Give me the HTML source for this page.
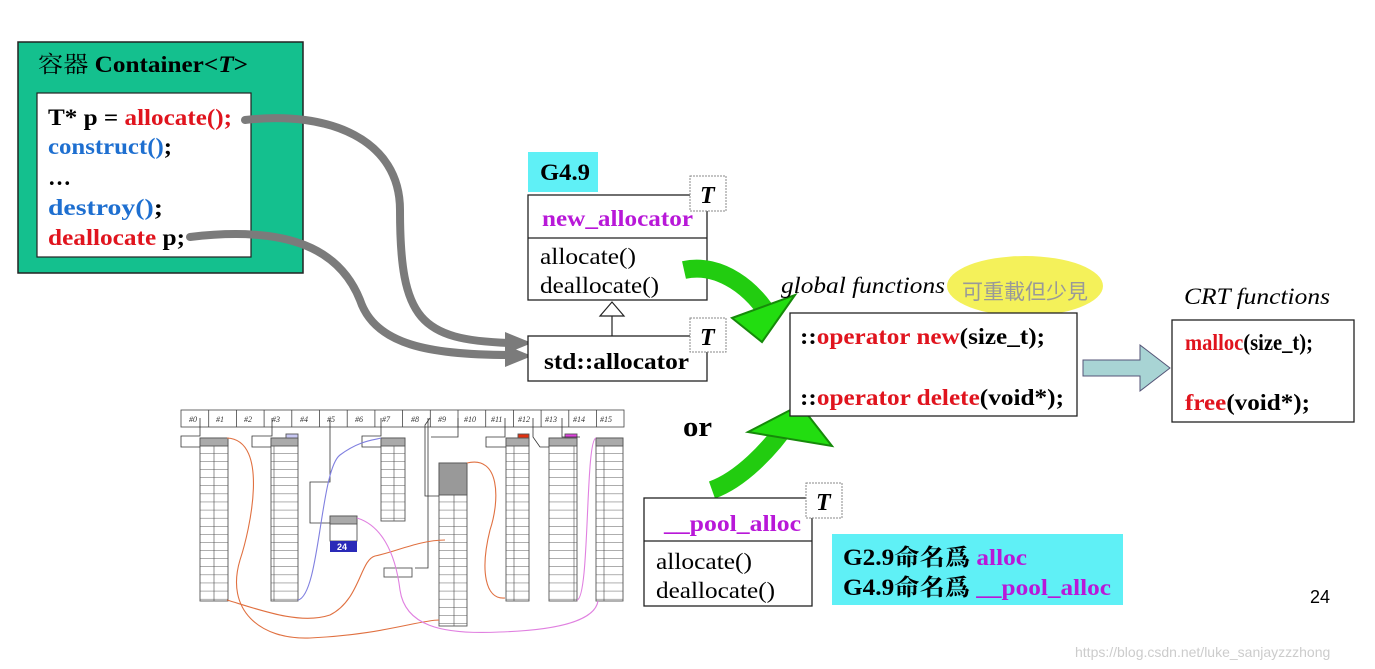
<!DOCTYPE html>
<html><head><meta charset="utf-8"><style>
html,body{margin:0;padding:0;background:#fff;}
svg{display:block;}
.s{font-family:"Liberation Serif","Noto Serif CJK SC",serif;}
.b{font-weight:bold;}
</style></head><body>
<svg width="1375" height="669" viewBox="0 0 1375 669" xmlns="http://www.w3.org/2000/svg">
<defs>
<pattern id="rows" x="0" y="0" width="30" height="8.1" patternUnits="userSpaceOnUse">
<line x1="0" y1="8" x2="30" y2="8" stroke="#555" stroke-width="0.8"/>
<line x1="4" y1="0" x2="4" y2="8" stroke="#444" stroke-width="0.6"/>
</pattern>
</defs>

<!-- Container -->
<rect x="18" y="42" width="285" height="231" fill="#14c08e" stroke="#222" stroke-width="1.5"/>
<text x="38" y="72" class="s" font-size="23" textLength="210" lengthAdjust="spacingAndGlyphs"><tspan>容器 </tspan><tspan class="b">Container&lt;</tspan><tspan class="b" font-style="italic">T</tspan><tspan class="b">&gt;</tspan></text>
<rect x="37" y="93" width="214" height="164" fill="#fff" stroke="#222" stroke-width="1.2"/>
<g class="s b" font-size="23">
<text x="48" y="125" textLength="184" lengthAdjust="spacingAndGlyphs">T* p = <tspan fill="#e0141e">allocate();</tspan></text>
<text x="48" y="154" fill="#1e6fd0" textLength="124" lengthAdjust="spacingAndGlyphs">construct()<tspan fill="#000">;</tspan></text>
<text x="48" y="185">…</text>
<text x="48" y="215" fill="#1e6fd0" textLength="115" lengthAdjust="spacingAndGlyphs">destroy()<tspan fill="#000">;</tspan></text>
<text x="48" y="245" fill="#e0141e" textLength="137" lengthAdjust="spacingAndGlyphs">deallocate <tspan fill="#000">p;</tspan></text>
</g>

<!-- gray arrows -->
<g fill="none" stroke="#7b7b7b" stroke-width="8" stroke-linecap="round">
<path d="M245 120 C330 110 400 140 400 210 C400 320 420 340 510 343"/>
<path d="M190 237 C290 225 340 250 360 300 C375 345 430 355 510 355"/>
</g>
<polygon points="505,332 532,343 505,354" fill="#7b7b7b"/>
<polygon points="505,345 532,356 505,367" fill="#7b7b7b"/>

<!-- G4.9 -->
<rect x="528" y="152" width="70" height="40" fill="#5ff0f6"/>
<text x="540" y="180" class="s b" font-size="23" textLength="50" lengthAdjust="spacingAndGlyphs">G4.9</text>
<rect x="528" y="195" width="179" height="105" fill="#fff" stroke="#222" stroke-width="1.3"/>
<line x1="528" y1="238" x2="707" y2="238" stroke="#222" stroke-width="1.3"/>
<text x="542" y="226" class="s b" font-size="23" fill="#b818d8" textLength="151" lengthAdjust="spacingAndGlyphs">new_allocator</text>
<text x="540" y="264" class="s" font-size="23" textLength="96" lengthAdjust="spacingAndGlyphs">allocate()</text>
<text x="540" y="293" class="s" font-size="23" textLength="119" lengthAdjust="spacingAndGlyphs">deallocate()</text>
<rect x="690" y="176" width="36" height="35" fill="#fff" stroke="#888" stroke-dasharray="2,1"/>
<text x="700" y="203" class="s b" font-size="24" font-style="italic">T</text>
<polygon points="600,316 612,302 624,316" fill="#fff" stroke="#222" stroke-width="1.2"/>
<line x1="612" y1="316" x2="612" y2="336" stroke="#222" stroke-width="1.2"/>
<rect x="528" y="336" width="179" height="45" fill="#fff" stroke="#222" stroke-width="1.3"/>
<text x="544" y="369" class="s b" font-size="23" textLength="145" lengthAdjust="spacingAndGlyphs">std::allocator</text>
<rect x="690" y="318" width="36" height="34" fill="#fff" stroke="#888" stroke-dasharray="2,1"/>
<text x="700" y="345" class="s b" font-size="24" font-style="italic">T</text>

<!-- green arrows -->
<path d="M684 270 C720 262 755 290 770 318" fill="none" stroke="#22cc10" stroke-width="18"/>
<polygon points="732,318 795,295 762,342" fill="#22dd10" stroke="#168a0a" stroke-width="2"/>
<path d="M712 490 C740 480 770 450 790 420" fill="none" stroke="#22cc10" stroke-width="18"/>
<polygon points="748,432 800,405 832,446" fill="#22dd10" stroke="#168a0a" stroke-width="2"/>

<!-- global -->
<ellipse cx="1025" cy="286" rx="78" ry="30" fill="#f4f15a"/>
<text x="781" y="293" class="s" font-size="23" font-style="italic" textLength="164" lengthAdjust="spacingAndGlyphs">global functions</text>
<text x="962" y="299" font-family="'Noto Sans CJK TC',sans-serif" font-size="21" fill="#999">可重載但少見</text>
<rect x="790" y="313" width="287" height="103" fill="#fff" stroke="#222" stroke-width="1.3"/>
<g class="s b" font-size="23">
<text x="800" y="344" textLength="245" lengthAdjust="spacingAndGlyphs">::<tspan fill="#e0141e">operator new</tspan>(size_t);</text>
<text x="800" y="405" textLength="264" lengthAdjust="spacingAndGlyphs">::<tspan fill="#e0141e">operator delete</tspan>(void*);</text>
</g>
<polygon points="1083,360 1140,360 1140,345 1170,368 1140,391 1140,376 1083,376" fill="#a8d4d4" stroke="#557" stroke-width="1"/>
<text x="1184" y="304" class="s" font-size="23" font-style="italic" textLength="146" lengthAdjust="spacingAndGlyphs">CRT functions</text>
<rect x="1172" y="320" width="182" height="102" fill="#fff" stroke="#222" stroke-width="1.3"/>
<g class="s b" font-size="23">
<text x="1185" y="350" textLength="128" lengthAdjust="spacingAndGlyphs"><tspan fill="#e0141e">malloc</tspan>(size_t);</text>
<text x="1185" y="410" textLength="125" lengthAdjust="spacingAndGlyphs"><tspan fill="#e0141e">free</tspan>(void*);</text>
</g>

<text x="683" y="436" class="s b" font-size="28" textLength="29" lengthAdjust="spacingAndGlyphs">or</text>

<!-- pool alloc -->
<rect x="644" y="498" width="168" height="108" fill="#fff" stroke="#222" stroke-width="1.3"/>
<line x1="644" y1="541" x2="812" y2="541" stroke="#222" stroke-width="1.3"/>
<text x="664" y="531" class="s b" font-size="23" fill="#b818d8" textLength="137" lengthAdjust="spacingAndGlyphs">__pool_alloc</text>
<text x="656" y="569" class="s" font-size="23" textLength="96" lengthAdjust="spacingAndGlyphs">allocate()</text>
<text x="656" y="598" class="s" font-size="23" textLength="119" lengthAdjust="spacingAndGlyphs">deallocate()</text>
<rect x="806" y="483" width="36" height="35" fill="#fff" stroke="#888" stroke-dasharray="2,1"/>
<text x="816" y="510" class="s b" font-size="24" font-style="italic">T</text>
<rect x="832" y="534" width="291" height="71" fill="#5ff0f6"/>
<g class="s b" font-size="23">
<text x="843" y="565" textLength="184" lengthAdjust="spacingAndGlyphs">G2.9命名爲 <tspan fill="#b818d8">alloc</tspan></text>
<text x="843" y="595" textLength="268" lengthAdjust="spacingAndGlyphs">G4.9命名爲 <tspan fill="#b818d8">__pool_alloc</tspan></text>
</g>
<text x="1310" y="603" font-family="'Liberation Sans',sans-serif" font-size="18">24</text>
<text x="1075" y="657" font-family="'Liberation Sans',sans-serif" font-size="14" fill="#ccc">https://blog.csdn.net/luke_sanjayzzzhong</text>

<!-- memory diagram -->
<g font-family="'Liberation Serif',serif" font-size="8" font-style="italic" fill="#333">
<rect x="181" y="410" width="443" height="17" fill="#fff" stroke="#444" stroke-width="0.8"/>
<g stroke="#444" stroke-width="0.8">
<line x1="208.7" y1="410" x2="208.7" y2="427"/><line x1="236.4" y1="410" x2="236.4" y2="427"/><line x1="264.1" y1="410" x2="264.1" y2="427"/><line x1="291.8" y1="410" x2="291.8" y2="427"/><line x1="319.5" y1="410" x2="319.5" y2="427"/><line x1="347.2" y1="410" x2="347.2" y2="427"/><line x1="374.9" y1="410" x2="374.9" y2="427"/><line x1="402.6" y1="410" x2="402.6" y2="427"/><line x1="430.3" y1="410" x2="430.3" y2="427"/><line x1="458" y1="410" x2="458" y2="427"/><line x1="485.7" y1="410" x2="485.7" y2="427"/><line x1="513.4" y1="410" x2="513.4" y2="427"/><line x1="541.1" y1="410" x2="541.1" y2="427"/><line x1="568.8" y1="410" x2="568.8" y2="427"/><line x1="596.5" y1="410" x2="596.5" y2="427"/>
</g>
<text x="189" y="422">#0</text><text x="216" y="422">#1</text><text x="244" y="422">#2</text><text x="272" y="422">#3</text><text x="300" y="422">#4</text><text x="327" y="422">#5</text><text x="355" y="422">#6</text><text x="382" y="422">#7</text><text x="411" y="422">#8</text><text x="438" y="422">#9</text><text x="464" y="422">#10</text><text x="491" y="422">#11</text><text x="518" y="422">#12</text><text x="545" y="422">#13</text><text x="573" y="422">#14</text><text x="600" y="422">#15</text>
</g>
<g stroke="#555" stroke-width="0.9">
<rect x="200" y="438" width="28" height="163" fill="url(#rows)"/>
<rect x="200" y="438" width="28" height="8" fill="#aaa"/>
<rect x="271" y="438" width="27" height="163" fill="url(#rows)"/>
<rect x="271" y="438" width="27" height="8" fill="#aaa"/>
<rect x="286" y="434" width="12" height="4" fill="#c8c8f4"/>
<rect x="381" y="438" width="24" height="83" fill="url(#rows)"/>
<rect x="381" y="438" width="24" height="8" fill="#aaa"/>
<rect x="439" y="463" width="28" height="163" fill="url(#rows)"/>
<rect x="439" y="463" width="28" height="32" fill="#999"/>
<rect x="506" y="438" width="23" height="163" fill="url(#rows)"/>
<rect x="506" y="438" width="23" height="8" fill="#aaa"/>
<rect x="518" y="434" width="11" height="4" fill="#e03010"/>
<rect x="549" y="438" width="28" height="163" fill="url(#rows)"/>
<rect x="549" y="438" width="28" height="8" fill="#aaa"/>
<rect x="565" y="434" width="12" height="4" fill="#e040e0"/>
<rect x="596" y="438" width="27" height="163" fill="url(#rows)"/>
<rect x="596" y="438" width="27" height="8" fill="#aaa"/>
<rect x="330" y="516" width="27" height="25" fill="#fff"/>
<rect x="330" y="516" width="27" height="8" fill="#aaa"/>
<rect x="384" y="568" width="28" height="9" fill="#fff"/>
</g>
<rect x="330" y="541" width="27" height="11" fill="#2a2ab8"/>
<text x="337" y="550" font-family="'Liberation Sans',sans-serif" font-size="9" font-weight="bold" fill="#fff">24</text>
<g fill="none" stroke="#333" stroke-width="0.8">
<path d="M200 418 V436 H181 V447 H200"/><path d="M272 418 V436 H252 V447 H271"/>
<path d="M330 418 V482 H310 V523 H330"/><path d="M381 418 V436 H362 V447 H381"/>
<path d="M430 418 L425 425 V496 H439"/><path d="M458 418 V437 H431"/>
<path d="M505 418 V437 H486 V447 H506"/><path d="M533 418 V437 L540 447 H549"/>
<path d="M562 418 V437 H580"/><path d="M415 568 H428 V418"/>
</g>
<g fill="none" stroke-width="1.1">
<path d="M227 438 C270 440 250 530 240 560 C225 610 260 640 310 638 C380 635 420 620 439 620" stroke="#e07040"/>
<path d="M227 600 C260 610 300 625 330 615 C360 600 360 560 375 556 C395 552 420 540 445 540" stroke="#e07040"/>
<path d="M467 463 C500 455 500 500 490 530 C480 570 485 600 505 598" stroke="#e07040"/>
<path d="M298 600 C320 595 320 470 340 455 C360 440 375 440 381 438" stroke="#8080e0"/>
<path d="M357 518 C380 525 395 550 400 590 C405 625 440 635 500 632 C560 630 595 620 598 601" stroke="#e080e0"/>
<path d="M577 600 C590 598 585 440 596 438" stroke="#e080e0"/>
</g>
</svg>
</body></html>
